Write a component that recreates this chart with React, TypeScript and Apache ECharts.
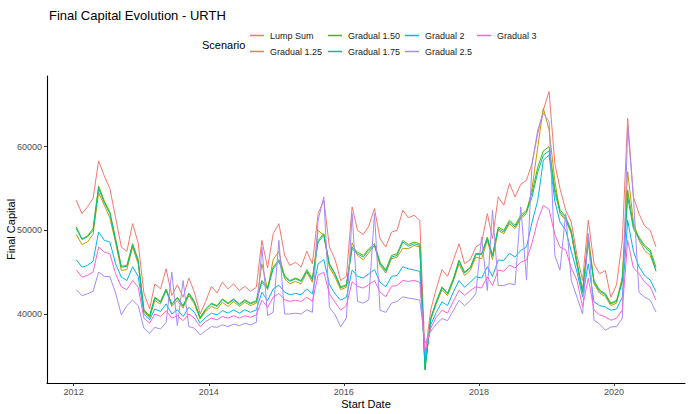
import React, { useEffect, useRef } from "react";
import * as echarts from "echarts";

const scenarioNames = ["Lump Sum", "Gradual 1.25", "Gradual 1.50", "Gradual 1.75", "Gradual 2", "Gradual 2.5", "Gradual 3"];
const scenarioColors = ["#F8766D", "#C49A00", "#53B400", "#00C094", "#00B6EB", "#A58AFF", "#FB61D7"];

// monthly start dates, Jan 2012 .. Aug 2020
const startYear = 2012;
const monthCount = 104;

const lumpSum = [
  53600, 52000, 52800, 53800, 58300, 56500, 55000, 51500, 48000, 47500, 50800, 48500,
  42500, 40600, 43600, 43000, 45400, 42200, 43500, 42000, 44300, 42600, 40000, 41500,
  43300, 42500, 43800, 43000, 43600, 42800, 43300, 42700, 43200, 48800, 45500, 49600,
  50800, 47000, 45800, 46200, 45600, 47500, 46000, 52000, 53600, 48000, 46500, 44000,
  44500, 52800, 50000, 49500, 50500, 52600, 49000, 48000, 49800, 50000, 52400, 51500,
  51800, 51200, 35000, 40500, 43000, 45300, 44500, 46400, 48400, 46000, 46500, 48000,
  48500, 52000, 49000, 54000, 53000, 55600, 54000, 55500, 56000, 58000, 61600, 64400,
  66600, 58000, 55000, 52400, 51000, 47000, 44000, 51200, 46000, 44800, 45200, 42000,
  43500, 48800, 63400, 54000, 52000, 50500, 50000, 48000,
];
const gradual125 = [
  49500, 48300, 48600, 49500, 54500, 53000, 51500, 48500, 45200, 45300, 48000, 46000,
  40300, 39500, 41600, 41200, 42800, 40900, 41600, 40700, 42200, 41200, 39400, 40300,
  40900, 40600, 41400, 40900, 41500, 40900, 41400, 41000, 41300, 46000, 42900, 46500,
  47500, 44200, 43600, 43900, 43600, 45000, 43800, 50000, 49400, 45600, 44400, 42900,
  43200, 48500, 47000, 46500, 47300, 48200, 45800, 44900, 46600, 46800, 47850, 47800,
  48200, 48000, 33600, 39300, 41200, 42900, 42200, 43900, 46000, 44600, 45200, 46800,
  46600, 48800, 46500, 50000, 49600, 50800, 50200, 51400, 52000, 55000, 60000, 64600,
  62000, 56000, 52000, 51200, 49600, 45800, 42500, 49600, 43600, 42500, 42100, 41000,
  41300, 44500, 57000, 51000, 48800, 47600, 47000, 45200,
];
const gradual150 = [
  50400, 49000, 49300, 50200, 55300, 53500, 52200, 49000, 45700, 45800, 48400, 46500,
  40500, 39800, 42000, 41500, 43000, 41200, 42000, 41000, 42500, 41500, 39600, 40600,
  41300, 41000, 41800, 41300, 41800, 41200, 41700, 41300, 41600, 44000, 43200, 45600,
  46500, 44600, 44000, 44300, 44000, 45300, 44200, 48800, 49600, 46000, 44800, 43250,
  43500, 48000, 47400, 47000, 47800, 48400, 46200, 45250, 47000, 47200, 48800, 48300,
  48600, 48400, 33300, 39500, 41500, 43250, 42500, 44200, 46450, 45000, 45600, 47250,
  47200, 49200, 47000, 50400, 50000, 51200, 50600, 51800, 52400, 54500, 57600, 59500,
  60000, 55000, 52500, 51600, 50000, 46200, 42850, 48800, 44000, 42850, 42450, 41300,
  41650, 44000, 54800, 50500, 49200, 48200, 47650, 45600,
];
const gradual175 = [
  50200, 48900, 49200, 50000, 55000, 53300, 52000, 48800, 45600, 45700, 48200, 46300,
  40400, 39700, 41900, 41400, 42900, 41100, 41900, 40900, 42400, 41400, 39500, 40500,
  41200, 40900, 41700, 41200, 41700, 41100, 41600, 41200, 41500, 43800, 43000, 45400,
  46300, 44400, 43900, 44200, 43900, 45100, 44100, 48600, 49400, 45900, 44700, 43100,
  43400, 47800, 47200, 46800, 47600, 48200, 46000, 45100, 46800, 47000, 48600, 48100,
  48400, 48200, 33400, 39400, 41400, 43100, 42400, 44100, 46300, 44900, 45500, 47100,
  47100, 49000, 46900, 50200, 49800, 51000, 50400, 51600, 52200, 54000, 57000, 59000,
  59500, 54500, 52200, 51400, 49800, 46000, 42700, 48500, 43800, 42700, 42300, 41200,
  41500, 43800, 54000, 50200, 49000, 48000, 47400, 45100,
];
const gradual2 = [
  46500, 45600, 45800, 46300, 49800, 48800, 48600, 46000, 44400, 44000, 45650, 44500,
  40000, 39300, 40600, 40300, 41200, 40000, 40500, 39700, 40800, 40200, 38900, 39600,
  40100, 39900, 40400, 40100, 40500, 40100, 40500, 40200, 40500, 42600, 41600, 43000,
  43450, 42600, 42300, 42450, 42300, 43000, 42400, 46000, 46500, 43500, 42400, 41650,
  42000, 45250, 44500, 44300, 44800, 45300, 43800, 43250, 44500, 44600, 45650, 45400,
  45250, 45100, 34500, 38700, 40200, 41450, 41000, 42600, 44000, 43200, 43800, 44450,
  44300, 45650, 44500, 46450, 46400, 47250, 46800, 47600, 48000, 51000, 53600, 58400,
  59000, 53500, 51000, 50000, 47500, 45000, 42050, 46000, 41450, 41000, 40850, 40450,
  40600, 42000, 51200, 47500, 45650, 44600, 44050, 42650,
];
const gradual25 = [
  42900, 42200, 42400, 42700, 45000, 44500, 44450, 42500, 39900, 41000, 41650, 41000,
  38300, 37700, 38400, 38200, 39000, 45000, 38600, 44000, 38500, 38300, 37500, 38000,
  38500, 38400, 38700, 38500, 38800, 38600, 38900, 38700, 39000, 48000, 39800, 40200,
  48800, 40000, 40000, 40100, 40000, 40500, 40200, 51200, 54000, 40800, 39900, 38470,
  39500, 52000, 41500, 41300, 41700, 52000, 40450, 40200, 41300, 41500, 42050, 41900,
  41800, 41650, 36500, 37900, 38800, 39450, 39200, 40400, 41650, 41000, 41600, 42450,
  49200, 42800, 52400, 43400, 43400, 43650, 43500, 52800, 44050, 58000, 62000, 64000,
  63000, 47000, 45250, 52000, 44000, 42000, 40000, 49600, 39250, 38800, 38050, 38450,
  38500, 39500, 62400, 54000, 42600, 42000, 41650, 40250,
];
const gradual3 = [
  45300, 44400, 44600, 45000, 48000, 47400, 47200, 44800, 43250, 42900, 44000, 43200,
  39500, 38900, 40000, 39700, 40400, 39500, 39800, 39200, 40000, 39500, 38500, 39100,
  39500, 39300, 39700, 39500, 39800, 39500, 39800, 39600, 39900, 41650, 40800, 42000,
  42450, 41700, 41500, 41650, 41500, 42000, 41500, 44650, 45000, 42400, 41400, 40460,
  41000, 43850, 43300, 43100, 43500, 44000, 42600, 42050, 43300, 43400, 44000, 43900,
  44000, 43800, 35500, 38300, 39600, 40450, 40100, 41500, 42850, 42200, 42800, 43250,
  43100, 44450, 43400, 45250, 45100, 45850, 45500, 46200, 46450, 48500, 51200, 53000,
  52500, 49500, 48000, 47650, 45500, 44000, 40850, 44300, 40450, 39900, 39650, 39250,
  39500, 40500, 48800, 45500, 44850, 43800, 43250, 41650,
];

const yTicks = [40000, 50000, 60000];
const xTickYears = [2012, 2014, 2016, 2018, 2020];

const seriesValues = [lumpSum, gradual125, gradual150, gradual175, gradual2, gradual25, gradual3];

const FONT = "Liberation Sans, Arial, sans-serif";

export default function App() {
  const ref = useRef<HTMLDivElement>(null);
  useEffect(() => {
    if (!ref.current) return;
    const chart = echarts.init(ref.current, null, { renderer: "svg" });
    const dates: number[] = [];
    for (let i = 0; i < monthCount; i++) {
      dates.push(Date.UTC(startYear + Math.floor(i / 12), i % 12, 15));
    }
    const xTicks = xTickYears.map((y) => Date.UTC(y, 0, 1));

    const legendCols = [250, 328, 405, 477];
    const legendRows = [31, 47];
    // ggplot legend is column-major with 2 rows
    const legends = scenarioNames.map((name, i) => ({
      data: [name],
      left: legendCols[Math.floor(i / 2)],
      top: legendRows[i % 2],
      icon: "rect",
      itemWidth: 14,
      itemHeight: 1.5,
      padding: 0,
      selectedMode: false,
      textStyle: { fontSize: 9, color: "#1a1a1a", fontFamily: FONT, padding: [0, 0, 0, 1] },
    }));

    chart.setOption({
      animation: false,
      backgroundColor: "#ffffff",
      title: {
        text: "Final Capital Evolution - URTH",
        left: 44,
        top: 4,
        textStyle: { fontSize: 13, fontWeight: "normal", color: "#000000", fontFamily: FONT },
      },
      legend: legends,
      graphic: [
        {
          type: "text",
          left: 202,
          top: 39,
          style: { text: "Scenario", fontSize: 11, fill: "#000000", fontFamily: FONT },
        },
        {
          type: "text",
          x: 11,
          y: 229.5,
          rotation: Math.PI / 2,
          style: {
            text: "Final Capital",
            fontSize: 11,
            fill: "#000000",
            fontFamily: FONT,
            align: "center",
            verticalAlign: "middle",
          },
        },
        {
          type: "text",
          x: 366,
          y: 404,
          style: {
            text: "Start Date",
            fontSize: 11,
            fill: "#000000",
            fontFamily: FONT,
            align: "center",
            verticalAlign: "middle",
          },
        },
      ],
      grid: { left: 47, right: 5, top: 76, bottom: 31, containLabel: false, outerBoundsMode: "none" },
      xAxis: {
        type: "value",
        min: Date.UTC(2011, 7, 10),
        max: Date.UTC(2021, 0, 19),
        axisLine: { show: true, lineStyle: { color: "#000000", width: 1.1 } },
        axisTick: { show: true, length: 3, lineStyle: { color: "#333333" }, customValues: xTicks },
        axisLabel: {
          fontSize: 9,
          color: "#4d4d4d",
          fontFamily: FONT,
          margin: 4,
          customValues: xTicks,
          formatter: (v: number) => String(new Date(v).getUTCFullYear()),
        },
        splitLine: { show: false },
      },
      yAxis: {
        type: "value",
        min: 31750,
        max: 68450,
        axisLine: { show: true, lineStyle: { color: "#000000", width: 1.1 } },
        axisTick: { show: true, length: 3, lineStyle: { color: "#333333" }, customValues: yTicks },
        axisLabel: {
          fontSize: 9,
          color: "#4d4d4d",
          fontFamily: FONT,
          margin: 5,
          customValues: yTicks,
          formatter: (v: number) => String(v),
        },
        splitLine: { show: false },
      },
      series: scenarioNames.map((name, i) => ({
        type: "line",
        name,
        data: dates.map((d, j) => [d, seriesValues[i][j]]),
        showSymbol: false,
        symbol: "none",
        color: scenarioColors[i],
        lineStyle: { width: 1, color: scenarioColors[i] },
        emphasis: { disabled: true },
      })),
    });
    return () => chart.dispose();
  }, []);
  return <div ref={ref} style={{ position: "absolute", left: 0, top: 0, width: 690, height: 414 }} />;
}
